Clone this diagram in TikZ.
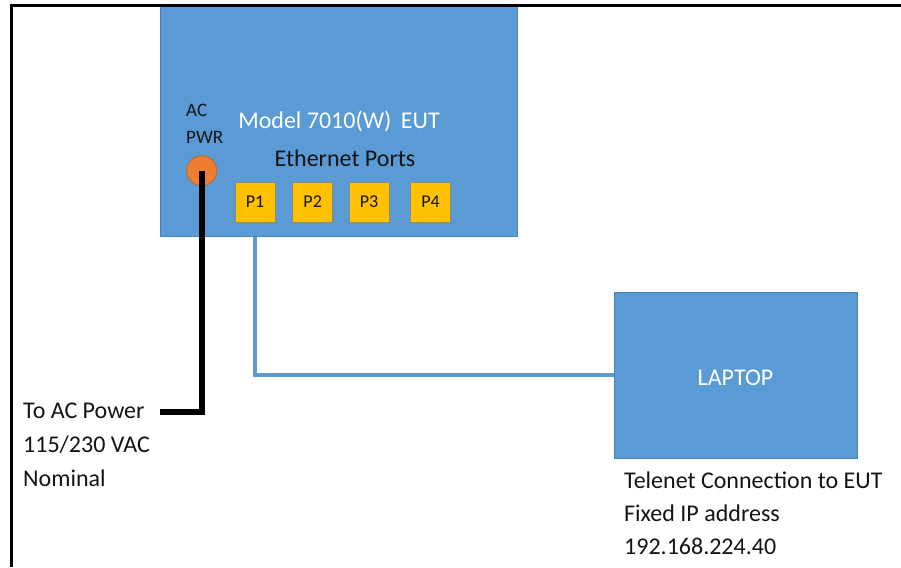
\documentclass[tikz,border=0pt]{standalone}
\usepackage{fontspec}
\setmainfont{Carlito}
\definecolor{boxblue}{HTML}{5B9BD5}
\definecolor{boxedge}{HTML}{4A82B8}
\definecolor{portyel}{HTML}{FFC000}
\definecolor{portedge}{HTML}{8C8C70}
\definecolor{pwrorange}{HTML}{ED7D31}
\definecolor{pwredge}{HTML}{C0652A}
\definecolor{txtdark}{HTML}{141414}
\tikzset{
  unitbox/.style={rectangle, fill=boxblue, draw=boxedge, line width=0.8pt, inner sep=0pt},
  portbox/.style={rectangle, fill=portyel, draw=portedge, line width=0.8pt, inner sep=0pt,
     minimum width=40pt, minimum height=40pt, font=\fontsize{18}{20}\selectfont, text=txtdark},
  pwrdot/.style={circle, fill=pwrorange, draw=pwredge, line width=0.8pt, inner sep=0pt, minimum size=30pt},
  lbl/.style={inner sep=0pt, font=\fontsize{24}{28}\selectfont, text=txtdark},
  smalllbl/.style={inner sep=0pt, font=\fontsize{19}{22}\selectfont, text=txtdark},
  wlbl/.style={inner sep=0pt, font=\fontsize{24}{28}\selectfont, text=white},
  powercord/.style={line width=6pt, black, line join=miter},
  ethcable/.style={line width=4pt, boxblue, line join=miter},
  frameline/.style={line width=3pt, black}
}
\begin{document}
\begin{tikzpicture}[x=1pt,y=-1pt]
\useasboundingbox (0,0) rectangle (901,567);
\fill[white] (0,0) rectangle (901,567);
% EUT box
\node[unitbox, minimum width=357.5pt, minimum height=230pt] (eut) at (338.75,121.5) {};
% laptop box
\node[unitbox, minimum width=243pt, minimum height=165.3pt] (laptop) at (735.5,375.35) {};
% frame
\draw[frameline] (11,567) -- (11,4.5);
\draw[frameline] (9.5,6) -- (901,6);
% ports
\node[portbox] (p1) at (255,202) {P1};
\node[portbox] (p2) at (312.7,202) {P2};
\node[portbox] (p3) at (369,202) {P3};
\node[portbox] (p4) at (430.5,202) {P4};
% power connector
\node[pwrdot] (pwr) at (201.7,170.7) {};
\node[smalllbl, anchor=base west] (acl) at (186,116.7) {AC};
\node[smalllbl, anchor=base west] (pwrl) at (186,143.3) {PWR};
% titles
\node[wlbl, anchor=base] (title) at (339,128.5) {Model 7010(W)\hspace{4pt} EUT};
\node[lbl, anchor=base] (eth) at (345,166.7) {Ethernet Ports};
\node[wlbl, anchor=base] (lapl) at (735.5,385) {LAPTOP};
% left texts
\node[lbl, anchor=base west] (ac1) at (23,418.3) {To AC Power};
\node[lbl, anchor=base west] (ac2) at (23,452.5) {115/230 VAC};
\node[lbl, anchor=base west] (ac3) at (23,486.3) {Nominal};
% right texts
\node[lbl, anchor=base west] (t1) at (624,488.3) {Telenet Connection to EUT};
\node[lbl, anchor=base west] (t2) at (624,521.7) {Fixed IP address};
\node[lbl, anchor=base west] (t3) at (624,554) {192.168.224.40};
% connectors
\coordinate (wend) at (160,411.7);
\draw[powercord] (pwr.center) |- (wend);
\draw[ethcable] (p1.south |- eut.south) |- (laptop.west);
\end{tikzpicture}
\end{document}
